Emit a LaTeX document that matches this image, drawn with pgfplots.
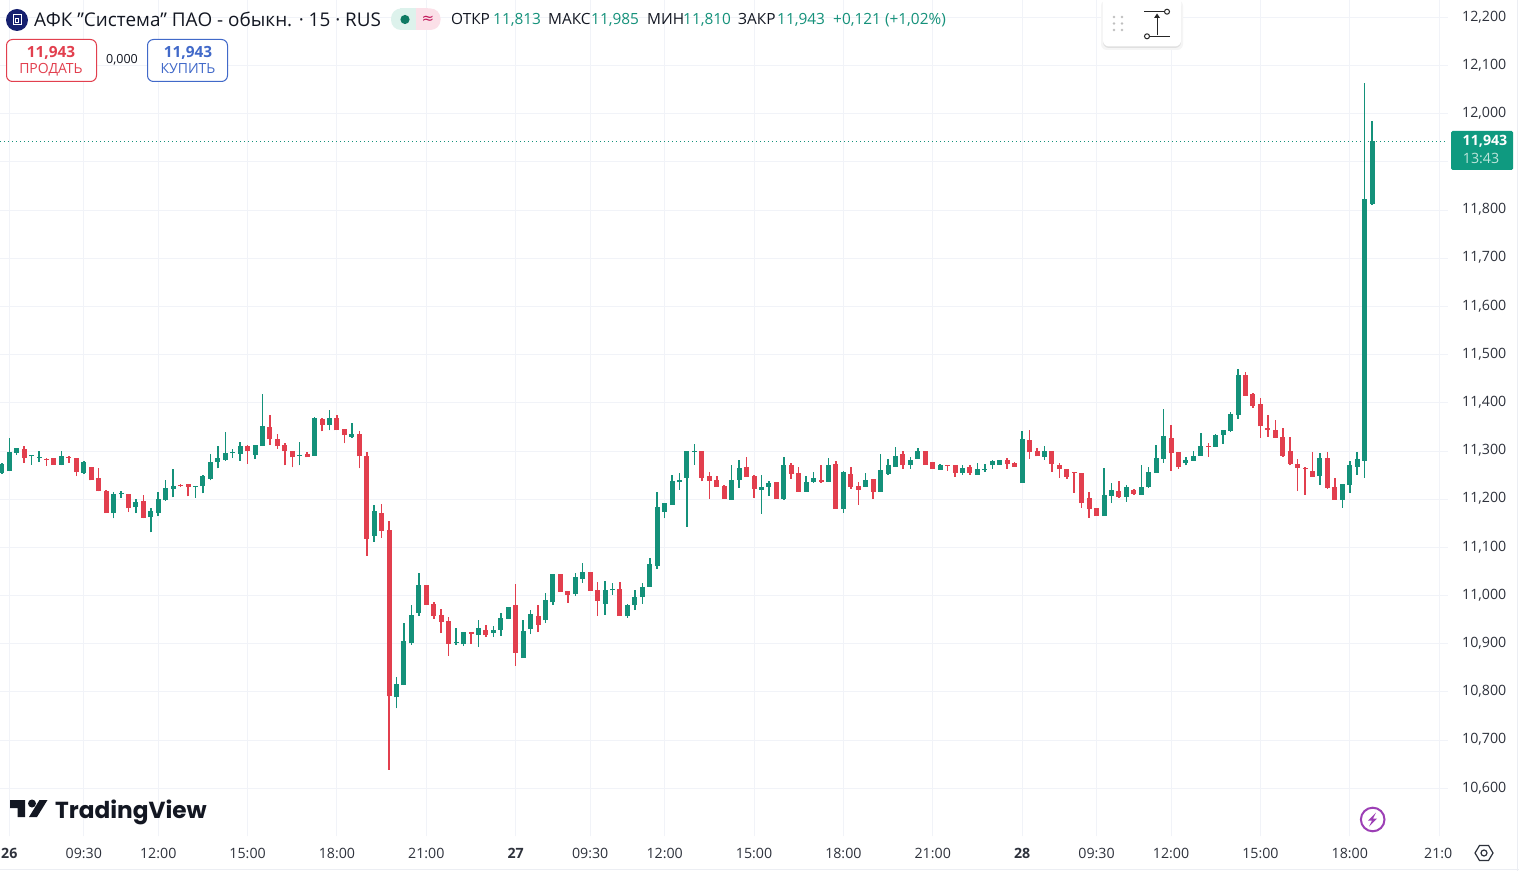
\documentclass[border=0pt]{standalone}
\usepackage{pgfplots}
\pgfplotsset{compat=1.18}
\usepackage{pgfplotstable}
\usepackage{fontspec}
\setmainfont{Open Sans}
\newfontfamily\logofont{Poppins}
\newfontfamily\symfont{DejaVu Sans}
\definecolor{tvgreen}{HTML}{14917A}
\definecolor{tvred}{HTML}{E23F4E}
\definecolor{tvblue}{HTML}{4169C9}
\definecolor{tvgrid}{HTML}{F1F3F8}
\definecolor{tvtext}{HTML}{131722}
\definecolor{tvaxis}{HTML}{2E323C}
\definecolor{tvborder}{HTML}{ECEEF3}
\definecolor{tvnavy}{HTML}{16206F}
\definecolor{pillg}{HTML}{DDF2EC}
\definecolor{pillp}{HTML}{FBE0E8}
\definecolor{dotg}{HTML}{0E7A63}
\definecolor{pinkt}{HTML}{C2185B}
\definecolor{tagc}{HTML}{0F9A80}
\definecolor{tagt}{HTML}{BFE6DC}
\definecolor{boltc}{HTML}{9C3FB5}
\pgfplotstableread{
k o h l c
-1 11.255 11.276 11.253 11.274
0 11.258 11.326 11.258 11.297
1 11.296 11.307 11.292 11.307
3 11.289 11.291 11.271 11.291
4 11.285 11.299 11.277 11.287
7 11.271 11.299 11.270 11.289
10 11.255 11.280 11.252 11.278
14 11.171 11.215 11.160 11.210
15 11.210 11.216 11.203 11.212
17 11.183 11.201 11.171 11.195
19 11.163 11.182 11.131 11.176
20 11.172 11.214 11.165 11.201
21 11.198 11.239 11.197 11.224
22 11.221 11.263 11.204 11.228
25 11.227 11.228 11.203 11.228
26 11.227 11.251 11.212 11.249
27 11.242 11.294 11.239 11.278
28 11.277 11.310 11.264 11.285
29 11.281 11.339 11.280 11.295
30 11.295 11.305 11.285 11.297
31 11.294 11.318 11.280 11.310
33 11.292 11.312 11.283 11.312
34 11.310 11.418 11.310 11.351
39 11.290 11.318 11.270 11.292
41 11.290 11.370 11.290 11.368
43 11.354 11.385 11.343 11.368
46 11.329 11.358 11.328 11.335
49 11.124 11.188 11.112 11.176
52 10.789 10.832 10.766 10.817
53 10.814 10.944 10.814 10.906
54 10.901 10.980 10.898 10.959
55 10.964 11.047 10.958 11.022
60 10.901 10.932 10.898 10.903
61 10.899 10.924 10.895 10.924
63 10.918 10.949 10.893 10.932
65 10.922 10.936 10.914 10.928
66 10.929 10.963 10.916 10.953
67 10.952 10.976 10.952 10.976
69 10.870 10.949 10.870 10.927
70 10.931 10.970 10.920 10.961
72 10.949 11.005 10.943 10.990
73 10.986 11.045 10.981 11.045
76 11.003 11.047 10.999 11.038
77 11.035 11.067 11.027 11.049
80 10.983 11.030 10.960 11.011
81 11.011 11.026 11.002 11.013
83 10.957 10.982 10.954 10.980
84 10.981 11.011 10.970 10.997
85 10.997 11.026 10.983 11.018
86 11.018 11.078 11.018 11.065
87 11.061 11.215 11.056 11.184
88 11.174 11.192 11.160 11.192
89 11.189 11.251 11.189 11.238
90 11.235 11.255 11.220 11.240
91 11.245 11.301 11.143 11.301
92 11.299 11.315 11.272 11.301
97 11.199 11.270 11.199 11.240
98 11.240 11.282 11.224 11.265
101 11.220 11.251 11.170 11.226
102 11.226 11.238 11.207 11.234
104 11.201 11.288 11.199 11.272
107 11.215 11.249 11.215 11.236
108 11.236 11.257 11.234 11.245
110 11.236 11.286 11.236 11.272
112 11.180 11.259 11.172 11.257
115 11.226 11.255 11.226 11.240
117 11.215 11.294 11.215 11.261
118 11.253 11.284 11.251 11.270
119 11.267 11.309 11.267 11.290
121 11.272 11.288 11.263 11.282
122 11.284 11.307 11.284 11.299
125 11.261 11.274 11.261 11.272
128 11.255 11.270 11.251 11.265
130 11.251 11.276 11.251 11.263
131 11.261 11.274 11.257 11.263
132 11.272 11.282 11.263 11.280
133 11.272 11.282 11.272 11.282
136 11.234 11.342 11.234 11.324
139 11.288 11.311 11.282 11.299
147 11.165 11.265 11.165 11.209
148 11.207 11.234 11.192 11.220
150 11.205 11.230 11.195 11.226
152 11.209 11.270 11.209 11.226
153 11.226 11.267 11.224 11.257
154 11.255 11.313 11.255 11.286
155 11.284 11.388 11.276 11.332
158 11.276 11.288 11.270 11.282
159 11.280 11.301 11.280 11.290
160 11.290 11.338 11.290 11.311
162 11.309 11.336 11.309 11.334
163 11.334 11.344 11.315 11.344
164 11.342 11.380 11.340 11.376
165 11.374 11.471 11.367 11.457
176 11.249 11.295 11.230 11.286
179 11.199 11.232 11.182 11.232
180 11.230 11.280 11.213 11.270
181 11.267 11.297 11.251 11.284
182 11.280 12.063 11.244 11.823
183 11.813 11.985 11.810 11.943
}\upcandles
\pgfplotstableread{
k o h l c
2 11.305 11.311 11.275 11.285
5 11.284 11.286 11.269 11.282
6 11.286 11.286 11.271 11.271
8 11.287 11.289 11.276 11.285
9 11.286 11.286 11.248 11.256
11 11.266 11.267 11.239 11.239
12 11.243 11.265 11.216 11.217
13 11.218 11.219 11.171 11.171
16 11.210 11.211 11.173 11.181
18 11.197 11.209 11.160 11.162
23 11.229 11.231 11.226 11.227
24 11.231 11.231 11.206 11.225
32 11.310 11.313 11.274 11.300
35 11.349 11.374 11.312 11.324
36 11.324 11.335 11.305 11.310
37 11.312 11.316 11.270 11.300
38 11.299 11.299 11.266 11.287
40 11.293 11.297 11.287 11.287
42 11.366 11.368 11.341 11.354
44 11.368 11.374 11.343 11.343
45 11.345 11.345 11.316 11.333
47 11.335 11.341 11.264 11.289
48 11.290 11.298 11.083 11.118
50 11.172 11.190 11.120 11.135
51 11.136 11.155 10.639 10.791
56 11.022 11.022 10.981 10.981
57 10.982 10.986 10.952 10.958
58 10.959 10.972 10.922 10.945
59 10.947 10.955 10.875 10.900
62 10.924 10.925 10.900 10.921
64 10.928 10.938 10.914 10.918
68 10.980 11.024 10.854 10.881
71 10.957 10.980 10.924 10.939
74 11.045 11.045 11.008 11.008
75 11.009 11.009 10.985 11.002
78 11.049 11.049 11.010 11.010
79 11.011 11.028 10.958 10.989
82 11.013 11.028 10.958 10.958
93 11.301 11.301 11.237 11.245
94 11.249 11.257 11.201 11.238
95 11.240 11.249 11.226 11.226
96 11.228 11.230 11.201 11.201
99 11.267 11.288 11.247 11.247
100 11.249 11.251 11.203 11.222
103 11.236 11.236 11.201 11.201
105 11.270 11.276 11.242 11.253
106 11.255 11.267 11.215 11.215
109 11.240 11.270 11.234 11.236
111 11.274 11.280 11.180 11.180
113 11.253 11.267 11.222 11.226
114 11.228 11.236 11.188 11.220
116 11.242 11.242 11.201 11.215
120 11.294 11.301 11.263 11.272
123 11.299 11.299 11.272 11.272
124 11.278 11.278 11.263 11.263
126 11.272 11.272 11.259 11.270
127 11.270 11.270 11.247 11.255
129 11.267 11.270 11.251 11.255
134 11.282 11.286 11.263 11.274
135 11.276 11.278 11.267 11.267
137 11.322 11.344 11.284 11.297
138 11.301 11.307 11.289 11.289
140 11.299 11.299 11.257 11.274
141 11.272 11.276 11.245 11.263
142 11.263 11.263 11.242 11.247
143 11.257 11.257 11.213 11.255
144 11.255 11.255 11.182 11.192
145 11.203 11.215 11.161 11.180
146 11.182 11.182 11.165 11.165
149 11.217 11.238 11.203 11.205
151 11.220 11.222 11.209 11.211
156 11.328 11.353 11.259 11.295
157 11.297 11.297 11.263 11.267
161 11.311 11.317 11.288 11.309
166 11.457 11.463 11.415 11.415
167 11.419 11.421 11.390 11.394
168 11.397 11.409 11.328 11.351
169 11.347 11.374 11.330 11.344
170 11.344 11.365 11.328 11.328
171 11.330 11.347 11.288 11.290
172 11.299 11.330 11.270 11.274
173 11.274 11.284 11.217 11.265
174 11.265 11.267 11.209 11.263
175 11.259 11.297 11.247 11.247
177 11.286 11.297 11.222 11.224
178 11.226 11.245 11.199 11.199
}\downcandles
\begin{document}
\begin{tikzpicture}[x=1pt,y=1pt]
\useasboundingbox (0,0) rectangle (1519,871);
\fill[white] (0,0) rectangle (1519,871);
\begin{axis}[
  at={(0pt,35pt)}, anchor=south west,
  scale only axis, width=1448pt, height=836pt,
  xmin=-1.249, xmax=193.19, ymin=10.5011, ymax=12.2359,
  axis line style={draw=none},
  major tick length=0pt,
  grid=major,
  grid style={color=tvgrid,line width=1pt},
  xtick={0,10,20,32,44,56,68,78,88,100,112,124,136,146,156,168,180,192},
  xticklabels={\textbf{26},09:30,12:00,15:00,18:00,21:00,\textbf{27},09:30,12:00,15:00,18:00,21:00,\textbf{28},09:30,12:00,15:00,18:00,\makebox[36pt][l]{\hspace{3pt}21:0}},
  ytick={10.6,10.7,10.8,10.9,11.0,11.1,11.2,11.3,11.4,11.5,11.6,11.7,11.8,12.0,12.1,12.2},
  extra y ticks={11.9},
  extra y tick labels={},
  extra tick style={grid=major},
  yticklabel pos=right,
  /pgf/number format/fixed,
  /pgf/number format/fixed zerofill,
  /pgf/number format/precision=3,
  /pgf/number format/use comma,
  /pgf/number format/1000 sep={},
  /pgf/number format/assume math mode=true,
  y tick label style={anchor=west,xshift=14pt,yshift=0.5pt,font=\fontsize{14.2}{16}\selectfont,text=tvaxis},
  x tick label style={anchor=base,font=\fontsize{14.2}{16}\selectfont,text=tvaxis,yshift=-22pt},
  tick label style={inner sep=0pt},
  clip=true,
]
\addplot[tvgreen,dash pattern=on 1pt off 3pt,line width=1pt] coordinates {(-1.249,11.943) (193.19,11.943)};
% wicks
\addplot[draw=none,mark=none,error bars/.cd,y dir=plus,y explicit,error mark=none,error bar style={line width=1.5pt,draw=tvgreen}]
  table[x=k,y=l,y error expr=\thisrow{h}-\thisrow{l}] {\upcandles};
\addplot[draw=none,mark=none,error bars/.cd,y dir=plus,y explicit,error mark=none,error bar style={line width=1.5pt,draw=tvred}]
  table[x=k,y=l,y error expr=\thisrow{h}-\thisrow{l}] {\downcandles};
% bodies
\addplot[draw=none,mark=none,error bars/.cd,y dir=plus,y explicit,error mark=none,error bar style={line width=5pt,draw=tvgreen}]
  table[x=k,y=o,y error expr=\thisrow{c}-\thisrow{o}] {\upcandles};
\addplot[draw=none,mark=none,error bars/.cd,y dir=plus,y explicit,error mark=none,error bar style={line width=5pt,draw=tvred}]
  table[x=k,y=c,y error expr=\thisrow{o}-\thisrow{c}] {\downcandles};
\end{axis}
\begin{scope}[x=1pt,y=-1pt,shift={(0pt,871pt)}]
% borders
\draw[color=tvborder,line width=1pt] (0,869.5) -- (1519,869.5);
\draw[color=tvborder,line width=1pt] (1517.5,0) -- (1517.5,871);
% header
\fill[color=tvnavy] (17,20) circle (11pt);
\draw[white,line width=1pt] (13,15) rectangle (21,25);
\fill[white] (15,18) rectangle (19,23);
\fill[color=tvnavy] (16.2,19.3) rectangle (17.8,21.7);
\node[anchor=base west,inner sep=0pt,text=tvtext,font=\fontsize{18.9}{20}\selectfont] at (34,26.5) {АФК "Система" ПАО - обыкн. · 15 · RUS};
% pill
\fill[color=pillg,rounded corners=10pt] (391,8.5) rectangle (425,30);
\fill[color=pillp,rounded corners=10pt] (408,8.5) rectangle (440.5,30);
\fill[color=pillg] (400,8.5) rectangle (416,30);
\fill[color=pillp] (416,8.5) rectangle (428,30);
\fill[color=dotg] (405,19.5) circle (4.6pt);
\node[anchor=center,inner sep=0pt,text=pinkt,font=\symfont\fontsize{15}{16}\selectfont] at (428,19.5) {≈};
\begin{scope}[every node/.style={anchor=base west,inner sep=0pt,font=\fontsize{15.4}{16}\selectfont}]
\node[text=tvtext] at (451,24.5) {ОТКР};
\node[text=tvgreen] at (493,24.5) {11,813};
\node[text=tvtext] at (548,24.5) {МАКС};
\node[text=tvgreen] at (591,24.5) {11,985};
\node[text=tvtext] at (647,24.5) {МИН};
\node[text=tvgreen] at (683,24.5) {11,810};
\node[text=tvtext] at (738,24.5) {ЗАКР};
\node[text=tvgreen] at (777,24.5) {11,943};
\node[text=tvgreen] at (833,24.5) {+0,121 (+1,02\%)};
\end{scope}
% buttons
\draw[tvred,line width=1pt,rounded corners=6pt,fill=white] (6.5,39.5) rectangle (96.5,81.5);
\node[anchor=base,inner sep=0pt,text=tvred,font=\bfseries\fontsize{15.4}{16}\selectfont] at (51,57.5) {11,943};
\node[anchor=base,inner sep=0pt,text=tvred,font=\fontsize{14}{16}\selectfont] at (51,74) {ПРОДАТЬ};
\node[anchor=base,inner sep=0pt,text=tvtext,font=\fontsize{12.5}{14}\selectfont] at (122,64) {0,000};
\draw[tvblue,line width=1pt,rounded corners=6pt,fill=white] (147.5,39.5) rectangle (227.5,81.5);
\node[anchor=base,inner sep=0pt,text=tvblue,font=\bfseries\fontsize{15.4}{16}\selectfont] at (188,57.5) {11,943};
\node[anchor=base,inner sep=0pt,text=tvblue,font=\fontsize{14}{16}\selectfont] at (188,74) {КУПИТЬ};
% drawing-tool widget
\fill[color=black!4,rounded corners=6pt] (1101,0) rectangle (1183,50);
\fill[color=black!12,rounded corners=6pt] (1103,0) rectangle (1181,48);
\fill[white,rounded corners=6pt] (1103,-6) rectangle (1181,46.5);
\foreach \yy in {17,23.5,30}{\fill[color=black!25] (1114,\yy) circle (1.3pt); \fill[color=black!25] (1122,\yy) circle (1.3pt);}
\draw[black!85,line width=1pt] (1144,11.7) -- (1164.5,11.7);
\draw[black!85,line width=1pt] (1149.5,36.3) -- (1170,36.3);
\draw[black!85,line width=1pt] (1167,11.7) circle (2.5pt);
\draw[black!85,line width=1pt] (1147,36.3) circle (2.5pt);
\draw[black!85,line width=1pt] (1157,35.5) -- (1157,17);
\fill[black!85] (1157,13.5) -- (1160,18) -- (1154,18) -- cycle;
% price tag
\fill[color=tagc,rounded corners=1.5pt] (1451,131) rectangle (1513,170);
\node[anchor=base,inner sep=0pt,text=white,font=\bfseries\fontsize{14.2}{16}\selectfont] at (1485,146) {11,943};
\node[anchor=base,inner sep=0pt,text=tagt,font=\fontsize{14.2}{16}\selectfont] at (1481,164) {13:43};
% TradingView logo
\fill[color=tvtext] (10,800) -- (25,800) -- (25,817) -- (17.5,817) -- (17.5,808) -- (10,808) -- cycle;
\fill[color=tvtext] (32,803.5) circle (4pt);
\fill[color=tvtext] (39.5,800) -- (47.5,800) -- (37,817) -- (29,817) -- cycle;
\node[anchor=base west,inner sep=0pt,text=tvtext,font=\logofont\bfseries\fontsize{23.2}{26}\selectfont] at (55,818.5) {TradingView};
% lightning
\draw[color=boltc,line width=2pt,fill=white] (1372.7,819.5) circle (11.8pt);
\fill[color=boltc] (1376,812.5) -- (1368,820.5) -- (1372,820.5) -- (1369,826.5) -- (1377,818.5) -- (1373,818.5) -- cycle;
% settings
\draw[tvaxis,line width=1.2pt] (1475,853) -- (1479.5,845.5) -- (1488.5,845.5) -- (1493,853) -- (1488.5,860.5) -- (1479.5,860.5) -- cycle;
\draw[tvaxis,line width=1.2pt] (1484,853) circle (3pt);
\end{scope}
\end{tikzpicture}
\end{document}
